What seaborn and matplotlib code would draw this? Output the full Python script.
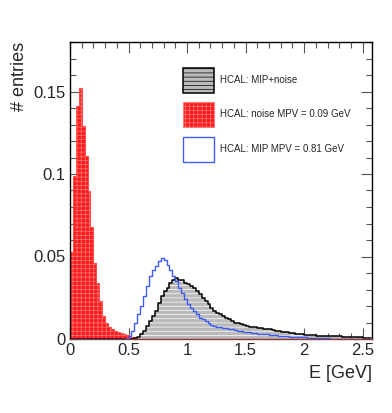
import numpy as np
import pandas as pd
import seaborn as sns
import matplotlib.pyplot as plt
from matplotlib.patches import Patch
from matplotlib.ticker import MultipleLocator

# binning: 0.025 GeV bins
bin_width = 0.025
n_bins = 103

# HCAL noise (red), starts at bin 0
noise_start = 0
noise_vals = [0.053, 0.099, 0.141, 0.152, 0.129, 0.111, 0.090, 0.068, 0.046, 0.034,
              0.023, 0.014, 0.010, 0.0073, 0.006, 0.005, 0.0043, 0.0037, 0.003, 0.0022,
              0.0015, 0.001, 0.0006, 0.0003, 0.0002]

# HCAL MIP (blue outline), starts at bin 19
mip_start = 19
mip_vals = [0.0005, 0.002, 0.005, 0.010, 0.015, 0.020, 0.026, 0.032, 0.038, 0.042,
            0.044, 0.047, 0.049, 0.048, 0.045, 0.042, 0.038, 0.035, 0.031, 0.028,
            0.024, 0.021, 0.019, 0.017, 0.015, 0.013, 0.012, 0.011, 0.0095, 0.0085,
            0.008, 0.0075, 0.007, 0.0068, 0.0065, 0.006, 0.0058, 0.0055, 0.005, 0.0048,
            0.0045, 0.0042, 0.004, 0.0038, 0.0035, 0.0033, 0.003, 0.003, 0.0028, 0.0026,
            0.0024, 0.0022, 0.002, 0.002, 0.0018, 0.0016, 0.0015, 0.0014, 0.0013, 0.0012,
            0.0011, 0.001, 0.0009, 0.0008, 0.0007, 0.0006, 0.0005, 0.0005, 0.0004, 0.0004,
            0.0003, 0.0003, 0.0002, 0.0002]

# HCAL MIP+noise (grey hatched), starts at bin 21
total_start = 21
total_vals = [0.0003, 0.0008, 0.0015, 0.003, 0.005, 0.008, 0.011, 0.014, 0.017, 0.022,
              0.026, 0.029, 0.031, 0.034, 0.036, 0.037, 0.036, 0.0355, 0.034, 0.0335,
              0.032, 0.031, 0.029, 0.027, 0.025, 0.023, 0.021, 0.019, 0.017, 0.016,
              0.015, 0.014, 0.013, 0.012, 0.011, 0.010, 0.0095, 0.009, 0.0085, 0.008,
              0.0075, 0.0072, 0.007, 0.0068, 0.0065, 0.0062, 0.006, 0.0058, 0.0055, 0.005,
              0.0047, 0.0045, 0.0042, 0.004, 0.0038, 0.0035, 0.0033, 0.003, 0.0028, 0.0026,
              0.0025, 0.0024, 0.0022, 0.0021, 0.002, 0.002, 0.0019, 0.0018, 0.0018, 0.0017,
              0.0016, 0.0016, 0.0015, 0.0015, 0.0014, 0.0013, 0.0012, 0.0011, 0.001, 0.0009,
              0.0008, 0.0008]

labels = ["HCAL: MIP+noise", "HCAL: noise MPV = 0.09 GeV", "HCAL: MIP MPV = 0.81 GeV"]


def full(start, vals):
    w = np.zeros(n_bins)
    w[start:start + len(vals)] = vals
    return w


centers = (np.arange(n_bins) + 0.5) * bin_width
df = pd.DataFrame({"E": centers,
                   "noise": full(noise_start, noise_vals),
                   "mip": full(mip_start, mip_vals),
                   "total": full(total_start, total_vals)})
hist_kw = dict(data=df, x="E", binwidth=bin_width,
               binrange=(0, n_bins * bin_width), element="step")

sns.set_style("ticks")
plt.rcParams['font.family'] = ['Liberation Sans', 'DejaVu Sans']
plt.rcParams['hatch.linewidth'] = 0.5

fig = plt.figure(figsize=(3.92, 4.13), dpi=100)
ax = fig.add_axes([70 / 392, 1 - 339 / 413, 302 / 392, 297 / 413])

blue = '#3f5cf5'
grey = '#bababa'
pink = '#ff7a7a'

# red noise fill
plt.rcParams['hatch.color'] = pink
sns.histplot(weights="noise", fill=True, color="#ff1a1a", alpha=1, linewidth=0,
             ax=ax, **hist_kw)
ax.collections[-1].set_hatch('++++')
ax.collections[-1].set_edgecolor(pink)
sns.histplot(weights="noise", fill=False, color="#ff5050", linewidth=0.8,
             ax=ax, **hist_kw)

# MIP+noise grey hatched fill
plt.rcParams['hatch.color'] = 'white'
sns.histplot(weights="total", fill=True, color=grey, alpha=1, linewidth=0,
             ax=ax, **hist_kw)
ax.collections[-1].set_hatch('----')
ax.collections[-1].set_edgecolor('white')
sns.histplot(weights="total", fill=False, color="black", linewidth=1.1,
             ax=ax, **hist_kw)

# MIP outline
sns.histplot(weights="mip", fill=False, color=blue, linewidth=1.0,
             ax=ax, **hist_kw)

ax.set_xlim(0, 2.58)
ax.set_ylim(0, 0.18)
ax.xaxis.set_minor_locator(MultipleLocator(0.1))
ax.yaxis.set_minor_locator(MultipleLocator(0.01))
ax.set_xticks([0, 0.5, 1, 1.5, 2, 2.5], ["0", "0.5", "1", "1.5", "2", "2.5"])
ax.set_yticks([0, 0.05, 0.1, 0.15], ["0", "0.05", "0.1", "0.15"])
ax.tick_params(which='both', direction='in', top=True, right=True,
               labelsize=12, width=0.8, color='#555555')
ax.tick_params(which='major', length=8, pad=3)
ax.tick_params(which='minor', length=4)
for s in ax.spines.values():
    s.set_linewidth(1)
    s.set_color('black')
ax.spines['bottom'].set_color('#8a3a3a')

ax.set_xlabel("E [GeV]", fontsize=13, loc='right', labelpad=5)
ax.set_ylabel("# entries", fontsize=13, loc='top', labelpad=4)

handles = [Patch(facecolor=grey, edgecolor='black', hatch='----', linewidth=1.1),
           Patch(facecolor='#ff1a1a', edgecolor=pink, hatch='++++', linewidth=0.8),
           Patch(facecolor='white', edgecolor=blue, linewidth=1.0)]
ax.legend(handles, labels, loc='upper left', bbox_to_anchor=(0.374, 0.914),
          frameon=False, fontsize=7, handlelength=3.2, handleheight=3.58,
          labelspacing=0.98, handletextpad=0.6, borderaxespad=0, borderpad=0)

fig.savefig("out.png", dpi=100)
